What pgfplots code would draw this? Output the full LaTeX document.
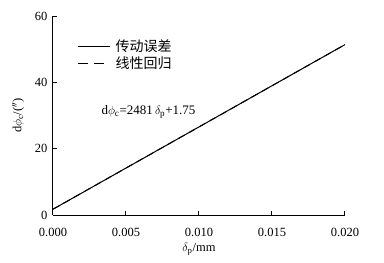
\documentclass[border=0pt]{standalone}
\usepackage{pgfplots}
\pgfplotsset{compat=1.18}
\usepackage{fontspec}
\setmainfont{Liberation Serif}
\newfontfamily\cjk{Noto Sans CJK SC}
\begin{document}
\begin{tikzpicture}[x=1pt,y=1pt]
\useasboundingbox (-53,-48) rectangle (331,215);
\begin{axis}[
  at={(0,0)}, anchor=south west,
  scale only axis, width=292pt, height=199pt,
  xmin=0, xmax=0.02, ymin=0, ymax=60,
  axis x line*=bottom, axis y line*=left,
  axis line style={line width=1pt},
  tick style={line width=1pt, black},
  tick align=inside, major tick length=4pt,
  xtick={0,0.005,0.01,0.015,0.02},
  ytick={0,20,40,60},
  xticklabel style={yshift=-10pt, /pgf/number format/.cd,fixed,fixed zerofill,precision=3},
  yticklabel style={xshift=-2pt},
  scaled x ticks=false,
  /pgf/number format/assume math mode=true,
  tick label style={font=\fontsize{12.5}{14}\selectfont},
  xlabel={$\delta_{\mathrm{p}}$/mm},
  ylabel={d$\phi_{\mathrm{c}}$/($''$)},
  label style={font=\fontsize{12.5}{14}\selectfont},
  xlabel style={yshift=1pt},
  ylabel style={yshift=4pt},
  clip=false,
]
\addplot[black, line width=1pt] coordinates {
(0,1.75) (0.002,6.70) (0.004,11.68) (0.006,16.63) (0.008,21.60) (0.010,26.56)
(0.012,31.52) (0.014,36.49) (0.016,41.45) (0.018,46.42) (0.020,51.37)};
\addplot[black, line width=1pt, dash pattern=on 7pt off 5pt] coordinates {(0,1.75) (0.020,51.37)};
\end{axis}
\draw[line width=1pt] (25,169) -- (57,169);
\draw[line width=1pt, dash pattern=on 10pt off 6pt] (25,152) -- (57,152);
\node[anchor=west, font=\cjk\fontsize{14}{16}\selectfont] at (59,169) {传动误差};
\node[anchor=west, font=\cjk\fontsize{14}{16}\selectfont] at (59,152) {线性回归};
\node[anchor=west, font=\fontsize{13}{15}\selectfont] at (45,103) {d$\phi_{\mathrm{c}}$=2481\,$\delta_{\mathrm{p}}$+1.75};
\end{tikzpicture}
\end{document}
